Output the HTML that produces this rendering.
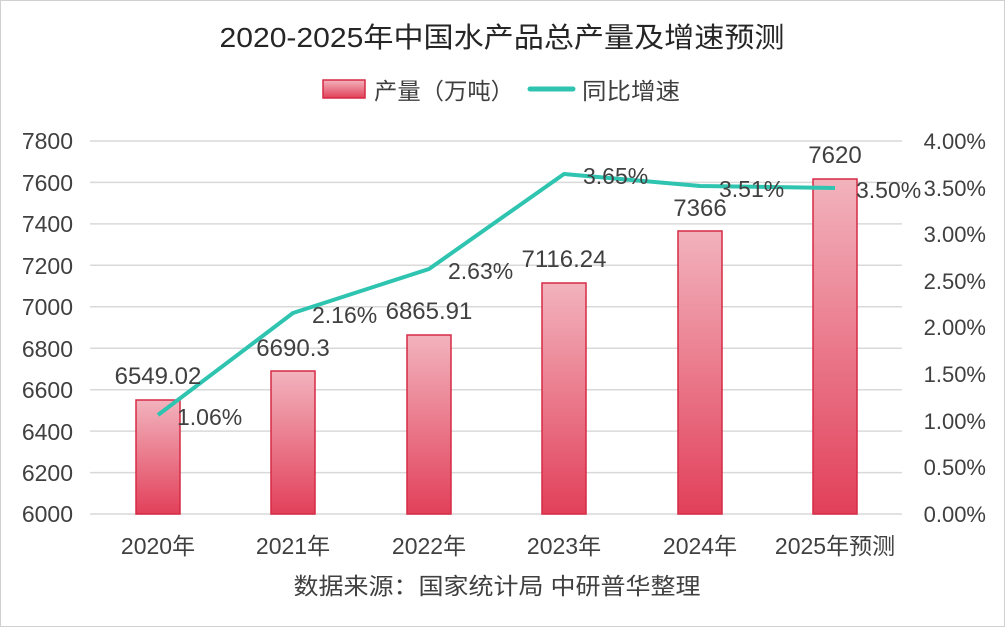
<!DOCTYPE html>
<html><head><meta charset="utf-8"><style>
html,body{margin:0;padding:0;background:#fff}
svg{display:block}
text{font-family:"Liberation Sans","Noto Sans CJK SC",sans-serif;fill:#404040}
</style></head><body>
<svg width="1005" height="627" viewBox="0 0 1005 627" xmlns="http://www.w3.org/2000/svg">
<defs>
<linearGradient id="g" x1="0" y1="0" x2="0" y2="1">
<stop offset="0" stop-color="#f2b3bd"/><stop offset="1" stop-color="#e2405a"/>
</linearGradient>
</defs>
<rect x="0.5" y="0.5" width="1004" height="626" fill="#fff" stroke="#d0d0d0"/>
<text x="502" y="47" font-size="28" text-anchor="middle" textLength="565" lengthAdjust="spacingAndGlyphs" style="fill:#262626">2020-2025年中国水产品总产量及增速预测</text>
<rect x="323" y="80" width="42" height="18" fill="url(#g)" stroke="#d62a44" stroke-width="1.5"/>
<text x="374" y="99" font-size="23" textLength="140" lengthAdjust="spacingAndGlyphs">产量（万吨）</text>
<line x1="530" y1="89" x2="573" y2="89" stroke="#2ec4b0" stroke-width="5" stroke-linecap="round"/>
<text x="582" y="99" font-size="23" textLength="98" lengthAdjust="spacingAndGlyphs">同比增速</text>
<g stroke="#d9d9d9" stroke-width="1.5">
<line x1="90" y1="141" x2="902" y2="141"/><line x1="90" y1="182.4" x2="902" y2="182.4"/>
<line x1="90" y1="223.9" x2="902" y2="223.9"/><line x1="90" y1="265.3" x2="902" y2="265.3"/>
<line x1="90" y1="306.8" x2="902" y2="306.8"/><line x1="90" y1="348.2" x2="902" y2="348.2"/>
<line x1="90" y1="389.7" x2="902" y2="389.7"/><line x1="90" y1="431.1" x2="902" y2="431.1"/>
<line x1="90" y1="472.6" x2="902" y2="472.6"/><line x1="90" y1="514" x2="902" y2="514"/>
</g>
<g font-size="23" text-anchor="end">
<text x="73" y="149">7800</text><text x="73" y="191">7600</text><text x="73" y="232">7400</text>
<text x="73" y="274">7200</text><text x="73" y="315">7000</text><text x="73" y="357">6800</text>
<text x="73" y="398">6600</text><text x="73" y="440">6400</text><text x="73" y="481">6200</text><text x="73" y="522">6000</text>
</g>
<g font-size="22" text-anchor="end">
<text x="986" y="149">4.00%</text><text x="986" y="196">3.50%</text><text x="986" y="242">3.00%</text>
<text x="986" y="289">2.50%</text><text x="986" y="335">2.00%</text><text x="986" y="382">1.50%</text>
<text x="986" y="429">1.00%</text><text x="986" y="475">0.50%</text><text x="986" y="522">0.00%</text>
</g>
<g fill="url(#g)" stroke="#d62a44" stroke-width="1.5">
<rect x="136" y="400" width="44" height="114"/>
<rect x="271" y="371" width="44" height="143"/>
<rect x="407" y="335" width="44" height="179"/>
<rect x="542" y="283" width="44" height="231"/>
<rect x="678" y="231" width="44" height="283"/>
<rect x="813" y="179" width="44" height="335"/>
</g>
<polyline points="158,415 293,313 429,269 564,174 700,186 835,188" fill="none" stroke="#2ec4b0" stroke-width="4" stroke-linejoin="round"/>
<g font-size="24" text-anchor="middle">
<text x="158" y="384">6549.02</text><text x="293" y="356">6690.3</text><text x="429" y="319">6865.91</text>
<text x="564" y="267">7116.24</text><text x="700" y="216">7366</text><text x="835" y="163">7620</text>
</g>
<g font-size="23">
<text x="177" y="425">1.06%</text><text x="312" y="323">2.16%</text><text x="448" y="279">2.63%</text>
<text x="583" y="184">3.65%</text><text x="719" y="197">3.51%</text><text x="856" y="198">3.50%</text>
</g>
<g font-size="23" text-anchor="middle">
<text x="158" y="554">2020年</text><text x="293" y="554">2021年</text><text x="429" y="554">2022年</text>
<text x="564" y="554">2023年</text><text x="700" y="554">2024年</text><text x="835" y="554">2025年预测</text>
</g>
<text x="497" y="594" font-size="23" text-anchor="middle" textLength="407" lengthAdjust="spacingAndGlyphs">数据来源：国家统计局 中研普华整理</text>
</svg>
</body></html>
